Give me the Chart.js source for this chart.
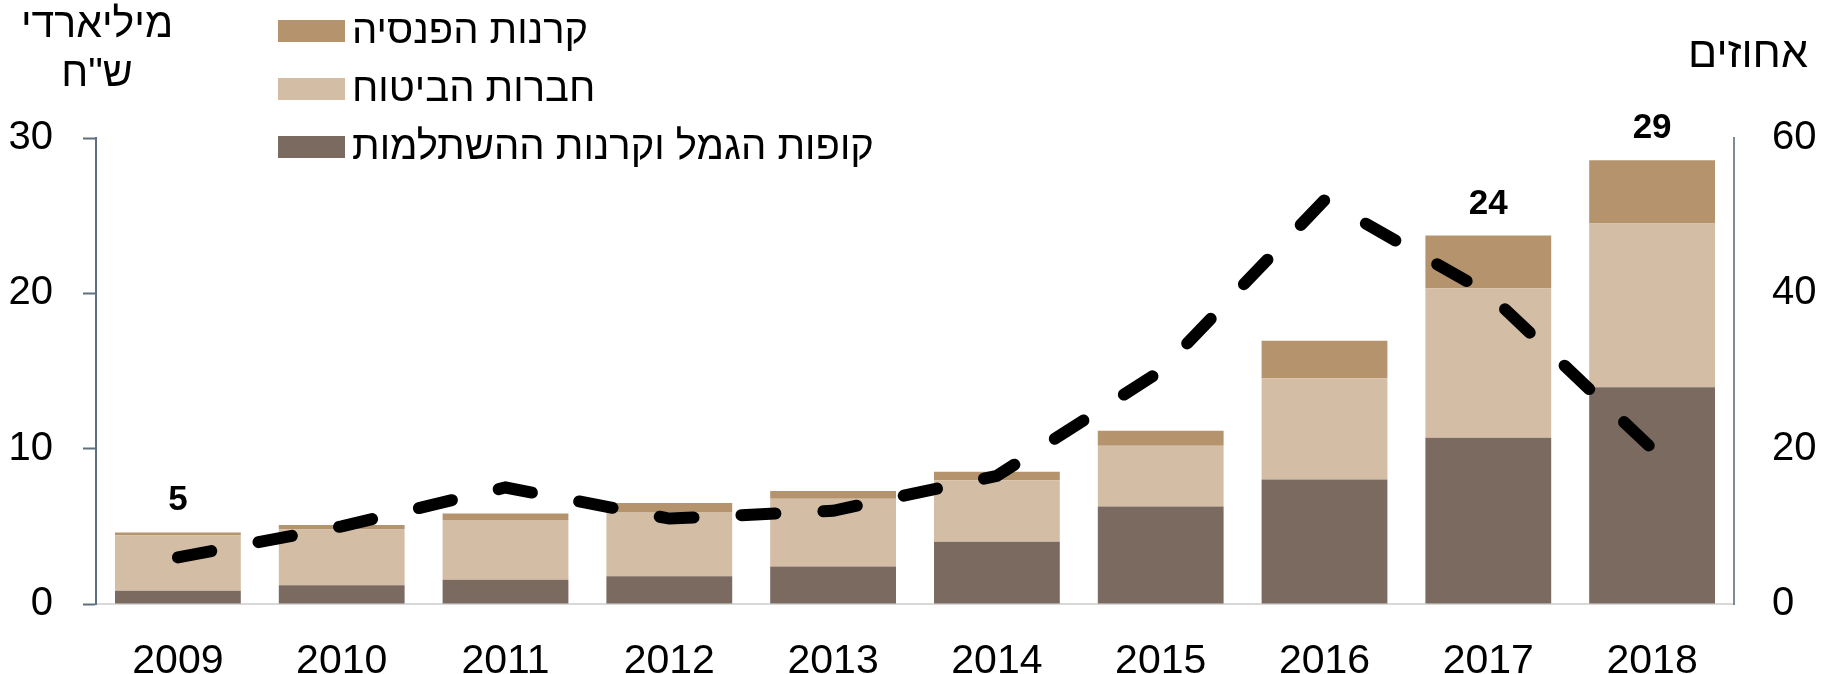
<!DOCTYPE html>
<html lang="he">
<head>
  <meta charset="UTF-8">
  <title>Chart</title>
  <script src="https://cdn.jsdelivr.net/npm/chart.js"></script>
  <style>
    html, body { margin: 0; padding: 0; background: #fff; }
    #wrap { width: 1822px; height: 674px; position: relative; }
  </style>
</head>
<body>
  <div id="wrap"><canvas id="chart" width="1822" height="674"></canvas></div>

  <script>
    // data
    const years = ['2009', '2010', '2011', '2012', '2013', '2014', '2015', '2016', '2017', '2018'];
    const provident = [0.86, 1.2, 1.56, 1.78, 2.42, 4.0, 6.27, 8.02, 10.71, 13.95];
    const insurance = [3.56, 3.6, 3.85, 4.14, 4.36, 3.97, 3.92, 6.51, 9.61, 10.54];
    const pension = [0.19, 0.29, 0.42, 0.58, 0.49, 0.54, 0.97, 2.41, 3.4, 4.08];
    const sharePct = [6, 10, 15, 11, 12, 16.5, 30, 52, 40, 20];
    const totalLabels = ['5', null, null, null, null, null, null, null, '24', '29'];
    const leftTicks = [0, 10, 20, 30];
    const rightTicks = [0, 20, 40, 60];

    const seriesNames = ['קופות הגמל וקרנות ההשתלמות', 'חברות הביטוח', 'קרנות הפנסיה'];
    const leftTitle = ['מיליארדי', 'ש"ח'];
    const rightTitle = 'אחוזים';

    const FONT = '"Liberation Sans", Arial, sans-serif';
    const colors = ['#7b6a5f', '#d3bda5', '#b5936d'];

    const overlay = {
      id: 'overlay',
      afterDatasetsDraw(chart) {
        const ctx = chart.ctx;
        const x = chart.scales.x;
        const y = chart.scales.y;
        ctx.save();
        // totals above bars
        ctx.fillStyle = '#000';
        ctx.font = 'bold 35px ' + FONT;
        ctx.textAlign = 'center';
        ctx.textBaseline = 'alphabetic';
        totalLabels.forEach((t, i) => {
          if (!t) return;
          const total = provident[i] + insurance[i] + pension[i];
          ctx.fillText(t, x.getPixelForValue(i), y.getPixelForValue(total) - 22);
        });
        ctx.restore();
      },
      afterDraw(chart) {
        const ctx = chart.ctx;
        ctx.save();
        ctx.fillStyle = '#000';
        ctx.textBaseline = 'middle';
        ctx.direction = 'rtl';
        // axis titles
        ctx.font = '41px ' + FONT;
        ctx.textAlign = 'center';
        ctx.fillText(leftTitle[0], 97, 26);
        ctx.fillText(leftTitle[1], 97, 75);
        ctx.font = '43px ' + FONT;
        ctx.fillText(rightTitle, 1748, 55);
        // legend, top row first
        const rows = [2, 1, 0];
        ctx.font = '40px ' + FONT;
        ctx.textAlign = 'left';
        rows.forEach((d, r) => {
          const cy = 31 + r * 58;
          ctx.fillStyle = colors[d];
          ctx.fillRect(278, cy - 11, 67, 22);
          ctx.fillStyle = '#000';
          ctx.fillText(seriesNames[d], 352, cy + 1);
        });
        ctx.restore();
      }
    };

    new Chart(document.getElementById('chart'), {
      data: {
        labels: years,
        datasets: [
          {
            type: 'line', label: 'share', data: sharePct, yAxisID: 'y1', order: 0,
            borderColor: '#000', borderWidth: 12, borderDash: [34, 48],
            borderCapStyle: 'round', pointRadius: 0, tension: 0, fill: false
          },
          { type: 'bar', label: seriesNames[0], data: provident, backgroundColor: colors[0], yAxisID: 'y', order: 1 },
          { type: 'bar', label: seriesNames[1], data: insurance, backgroundColor: colors[1], yAxisID: 'y', order: 1 },
          { type: 'bar', label: seriesNames[2], data: pension, backgroundColor: colors[2], yAxisID: 'y', order: 1 }
        ]
      },
      options: {
        responsive: false,
        animation: false,
        devicePixelRatio: 1,
        categoryPercentage: 0.768,
        barPercentage: 1,
        layout: { padding: { top: 138, left: 0, right: 0, bottom: 0 } },
        plugins: { legend: { display: false }, tooltip: { enabled: false } },
        scales: {
          x: {
            stacked: true,
            grid: { display: false },
            border: { color: '#d9d9d9', width: 2 },
            ticks: { color: '#000', font: { family: FONT, size: 41 }, padding: 25, maxRotation: 0 },
            afterFit(s) { s.height = 70; }
          },
          y: {
            stacked: true, position: 'left', min: 0, max: 30,
            afterBuildTicks(s) { s.ticks = leftTicks.map(v => ({ value: v })); },
            grid: { drawOnChartArea: false, drawTicks: true, tickLength: 13, color: '#5f6f7f', tickWidth: 2 },
            border: { color: '#5f6f7f', width: 2 },
            ticks: { color: '#000', font: { family: FONT, size: 40 }, padding: 30 },
            afterFit(s) { s.width = 96; }
          },
          y1: {
            position: 'right', min: 0, max: 60,
            afterBuildTicks(s) { s.ticks = rightTicks.map(v => ({ value: v })); },
            grid: { drawOnChartArea: false, drawTicks: false },
            border: { color: '#7d8c9b', width: 2 },
            ticks: { color: '#000', font: { family: FONT, size: 40 }, padding: 38 },
            afterFit(s) { s.width = 88; }
          }
        }
      },
      plugins: [overlay]
    });
  </script>
</body>
</html>
